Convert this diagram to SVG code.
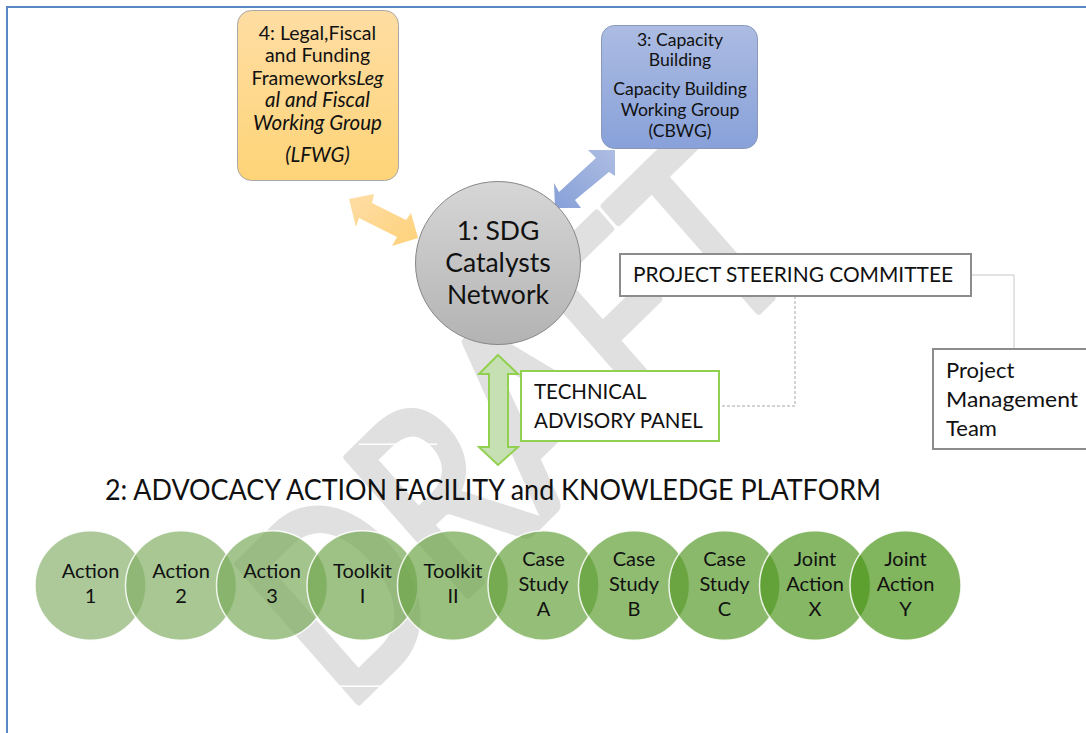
<svg xmlns="http://www.w3.org/2000/svg" width="1086" height="733" viewBox="0 0 1086 733">
<style>
text{font-family:Lato,"Liberation Sans",sans-serif;fill:#111}
.box{fill:#fff;stroke:#8c8c8c;stroke-width:2}
.c{stroke:#fff;stroke-width:1.5;stroke-opacity:.85}
.ct{font-size:20px;text-anchor:middle}
.ot{font-size:19.500px;text-anchor:middle}
.oi{font-size:20.500px;text-anchor:middle;font-style:italic}
.bt{font-size:17.600px;text-anchor:middle}
.st{font-size:20.500px}
.pm{font-size:22px}
.n1{font-size:26.500px;text-anchor:middle}
</style>
<defs>
<linearGradient id="go" x1="0" y1="0" x2="0" y2="1"><stop offset="0" stop-color="#fedda3"/><stop offset="1" stop-color="#fed478"/></linearGradient>
<linearGradient id="gb" x1="0" y1="0" x2="0" y2="1"><stop offset="0" stop-color="#acbce2"/><stop offset="1" stop-color="#88a1d9"/></linearGradient>
<linearGradient id="gg" x1="0" y1="0" x2="0" y2="1"><stop offset="0" stop-color="#d6d6d6"/><stop offset="1" stop-color="#b3b3b3"/></linearGradient>
<linearGradient id="gab" x1="1" y1="0" x2="0" y2="1"><stop offset="0" stop-color="#aebde2"/><stop offset="1" stop-color="#86a0d8"/></linearGradient>
<linearGradient id="gao" x1="0" y1="0" x2="1" y2="1"><stop offset="0" stop-color="#fedda6"/><stop offset="1" stop-color="#fed27a"/></linearGradient>
</defs>
<rect width="1086" height="733" fill="#fff"/>
<path d="M1086 7H7V733" fill="none" stroke="#5b87c5" stroke-width="2"/>
<g id="watermark">
<text transform="matrix(.563 -.55 .66 .75 361 703)" x="-25" y="-3" font-size="255" style="fill:#e0e0e0;stroke:#e0e0e0;stroke-width:8px;stroke-linejoin:round">DRAFT</text>
<rect x="359" y="443.500" width="78" height="1.500" fill="#fff"/>
<rect x="337" y="685.500" width="45" height="1.500" fill="#fff"/>
</g>
<g id="connectors">
<polygon points="349,199 374,194 372,203 406,220 411,213 418,238 392,246 397,237 359,218 356,227" fill="url(#gao)"/>
<polygon points="615,150 588,150 596,158 559,192 554,183 555,208 581,208 575,200 609,172 615,176" fill="url(#gab)"/>
<polygon points="498,355 518,374 508,374 508,447 518,447 498,465 479,447 489,447 489,374 479,374" fill="#c6e0b4" stroke="#92d050" stroke-width="2"/>
<path d="M795 296V406H719" fill="none" stroke="#a6a6a6" stroke-dasharray="3 2"/>
<path d="M971 275H1014V349" fill="none" stroke="#c8c8c8"/>
</g>
<g id="node-4">
<rect x="237.500" y="10.500" width="161" height="170" rx="14" fill="url(#go)" stroke="#a8a8a8"/>
<text class="ot" x="317.500" y="40">4: Legal,Fiscal</text>
<text class="ot" x="317.500" y="62">and Funding</text>
<text class="ot" x="317.500" y="85">Frameworks<tspan font-style="italic">Leg</tspan></text>
<text class="oi" x="317.500" y="107">al and Fiscal</text>
<text class="oi" x="317.500" y="130">Working Group</text>
<text class="oi" x="317.500" y="162">(LFWG)</text>
</g>
<g id="node-3">
<rect x="601.500" y="25.500" width="156" height="123" rx="13" fill="url(#gb)" stroke="#8a99bb"/>
<text class="bt" x="680" y="46">3: Capacity</text>
<text class="bt" x="680" y="66">Building</text>
<text class="bt" x="680" y="95">Capacity Building</text>
<text class="bt" x="680" y="116">Working Group</text>
<text class="bt" x="680" y="137">(CBWG)</text>
</g>
<g id="node-1">
<ellipse cx="498" cy="263" rx="82.500" ry="81.500" fill="url(#gg)" stroke="#888"/>
<text class="n1" x="498" y="240">1: SDG</text>
<text class="n1" x="498" y="272">Catalysts</text>
<text class="n1" x="498" y="304">Network</text>
</g>
<g id="node-steering">
<rect class="box" x="620" y="254" width="351" height="42"/>
<text class="st" x="633" y="282" textLength="320" lengthAdjust="spacingAndGlyphs">PROJECT STEERING COMMITTEE</text>
</g>
<g id="node-pmt">
<rect class="box" x="933" y="349" width="160" height="100"/>
<text class="pm" x="946" y="378">Project</text>
<text class="pm" x="946" y="407" textLength="132" lengthAdjust="spacingAndGlyphs">Management</text>
<text class="pm" x="946" y="436">Team</text>
</g>
<g id="node-tap">
<rect x="521" y="371" width="198" height="70" fill="#fff" stroke="#92d050" stroke-width="2"/>
<text class="st" x="534" y="399">TECHNICAL</text>
<text class="st" x="534" y="428">ADVISORY PANEL</text>
</g>
<g id="title">
<text x="105" y="500" font-size="29" textLength="776" lengthAdjust="spacingAndGlyphs">2: ADVOCACY ACTION FACILITY and KNOWLEDGE PLATFORM</text>
</g>
<g id="action-1"><ellipse class="c" cx="90.500" cy="585.500" rx="55.500" ry="54.700" fill="#8ab26f" fill-opacity=".7"/><text class="ct" x="90.500" y="578">Action</text><text class="ct" x="90.500" y="603">1</text></g>
<g id="action-2"><ellipse class="c" cx="181" cy="585.500" rx="55.500" ry="54.700" fill="#83af65" fill-opacity=".7"/><text class="ct" x="181" y="578">Action</text><text class="ct" x="181" y="603">2</text></g>
<g id="action-3"><ellipse class="c" cx="272" cy="585.500" rx="55.500" ry="54.700" fill="#7cac5c" fill-opacity=".7"/><text class="ct" x="272" y="578">Action</text><text class="ct" x="272" y="603">3</text></g>
<g id="toolkit-1"><ellipse class="c" cx="362.500" cy="585.500" rx="55.500" ry="54.700" fill="#75a852" fill-opacity=".7"/><text class="ct" x="362.500" y="578">Toolkit</text><text class="ct" x="362.500" y="603">I</text></g>
<g id="toolkit-2"><ellipse class="c" cx="453" cy="585.500" rx="55.500" ry="54.700" fill="#6ea549" fill-opacity=".7"/><text class="ct" x="453" y="578">Toolkit</text><text class="ct" x="453" y="603">II</text></g>
<g id="case-a"><ellipse class="c" cx="543.500" cy="585.500" rx="55.500" ry="54.700" fill="#68a23f" fill-opacity=".7"/><text class="ct" x="543.500" y="566">Case</text><text class="ct" x="543.500" y="591">Study</text><text class="ct" x="543.500" y="616">A</text></g>
<g id="case-b"><ellipse class="c" cx="634" cy="585.500" rx="55.500" ry="54.700" fill="#619f36" fill-opacity=".7"/><text class="ct" x="634" y="566">Case</text><text class="ct" x="634" y="591">Study</text><text class="ct" x="634" y="616">B</text></g>
<g id="case-c"><ellipse class="c" cx="724.500" cy="585.500" rx="55.500" ry="54.700" fill="#5a9b2c" fill-opacity=".7"/><text class="ct" x="724.500" y="566">Case</text><text class="ct" x="724.500" y="591">Study</text><text class="ct" x="724.500" y="616">C</text></g>
<g id="joint-x"><ellipse class="c" cx="815" cy="585.500" rx="55.500" ry="54.700" fill="#539823" fill-opacity=".7"/><text class="ct" x="815" y="566">Joint</text><text class="ct" x="815" y="591">Action</text><text class="ct" x="815" y="616">X</text></g>
<g id="joint-y"><ellipse class="c" cx="905.500" cy="585.500" rx="55.500" ry="54.700" fill="#4c9519" fill-opacity=".7"/><text class="ct" x="905.500" y="566">Joint</text><text class="ct" x="905.500" y="591">Action</text><text class="ct" x="905.500" y="616">Y</text></g>
</svg>
